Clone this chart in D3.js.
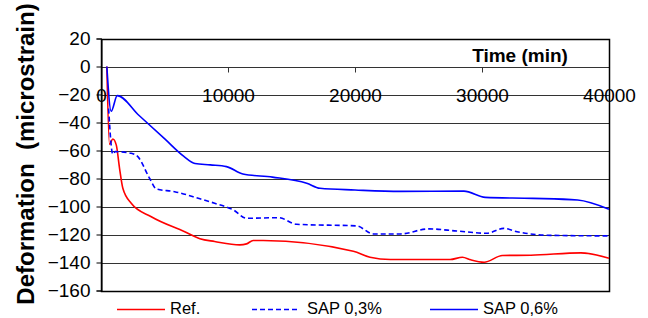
<!DOCTYPE html>
<html>
<head>
<meta charset="utf-8">
<script src="https://cdn.jsdelivr.net/npm/d3@7"></script>
<style>
  body { margin: 0; background: #fff; }
  svg { display: block; font-family: "Liberation Sans", Arial, sans-serif; }
</style>
</head>
<body>
<div id="chart"></div>
<script>
// time (min), deformation (microstrain)
const refData = [[460,0],[670,-55.6],[930,-51.8],[1200,-56],[1460,-72.7],[1720,-87],[2380,-97.7],[3960,-107.3],[6590,-118],[7790,-123],[8950,-125],[10930,-127.4],[11460,-126.7],[11980,-124.3],[12770,-124.3],[19870,-132],[21180,-136.2],[22780,-137.9],[27490,-137.9],[28460,-136.2],[29120,-138.1],[30170,-139.8],[31610,-135],[33850,-134.8],[37790,-133.1],[40000,-137]];
const sap03Data = [[600,-30],[930,-62.7],[1120,-60.8],[2380,-62],[2900,-64.4],[3830,-80],[4360,-87.5],[5800,-89.4],[7790,-94.5],[8950,-97.7],[10430,-102.5],[11460,-108.4],[13990,-108],[15400,-112.7],[20130,-113.9],[21440,-119.6],[23570,-119.6],[25780,-116],[28020,-117.5],[30390,-119.1],[31700,-115.6],[32760,-118],[35390,-120.6],[40000,-121]];
const sap06Data = [[460,0],[800,-32],[1280,-20.8],[3000,-35],[5000,-51.5],[6500,-64],[7400,-69.3],[8600,-70.3],[9880,-71.5],[11170,-76.8],[13500,-79],[16200,-83.4],[17240,-87],[20000,-88.2],[23570,-89.2],[28580,-89],[30260,-93.5],[34000,-94.2],[37530,-95.4],[40000,-102]];

const xTicks = [0, 10000, 20000, 30000, 40000];
const yTicks = [20, 0, -20, -40, -60, -80, -100, -120, -140, -160];

const series = [
  { name: 'Ref.', data: refData, color: '#ff0000', dash: null, lx: 117, tx: 170 },
  { name: 'SAP 0,3%', data: sap03Data, color: '#0000ff', dash: '5,3', lx: 252, tx: 307 },
  { name: 'SAP 0,6%', data: sap06Data, color: '#0000ff', dash: null, lx: 430, tx: 483 }
];

const W = 648, H = 318;
const m = { left: 101, right: 39, top: 38.5, bottom: 27.5 };
const FONT = '"Liberation Sans", Arial, sans-serif';

const svg = d3.select('#chart').append('svg')
  .attr('width', W).attr('height', H);

const x = d3.scaleLinear().domain([0, 40000]).range([m.left, W - m.right]);
const y = d3.scaleLinear().domain([-160, 20]).range([H - m.bottom, m.top]);

// horizontal gridlines
svg.append('g')
  .selectAll('line')
  .data(yTicks)
  .join('line')
  .attr('x1', m.left).attr('x2', W - m.right)
  .attr('y1', d => Math.round(y(d)) + 0.5).attr('y2', d => Math.round(y(d)) + 0.5)
  .attr('stroke', '#333').attr('stroke-width', 1);

// y axis on the left
const yAxis = svg.append('g')
  .attr('transform', `translate(${m.left + 0.5},0)`)
  .call(d3.axisLeft(y).tickValues(yTicks).tickSize(5).tickPadding(6));
yAxis.select('.domain').attr('stroke', '#000');
yAxis.selectAll('.tick line').attr('stroke', '#000');
yAxis.selectAll('.tick text').attr('font-size', 19).attr('fill', '#000')
  .attr('font-family', FONT);

// x axis along y = 0
const xAxis = svg.append('g')
  .attr('transform', `translate(0,${Math.round(y(0)) + 0.5})`)
  .call(d3.axisBottom(x).tickValues(xTicks).tickSize(5).tickPadding(16).tickFormat(d3.format('d')));
xAxis.select('.domain').remove();
xAxis.selectAll('.tick line').attr('stroke', '#333');
xAxis.selectAll('.tick text').attr('font-size', 19).attr('fill', '#000')
  .attr('font-family', FONT);

// frame
svg.append('rect')
  .attr('x', m.left + 0.5).attr('y', Math.round(y(20)) + 0.5)
  .attr('width', x(40000) - m.left).attr('height', Math.round(y(-160)) - Math.round(y(20)))
  .attr('fill', 'none').attr('stroke', '#000').attr('stroke-width', 1.5);

// series lines
const line = d3.line()
  .x(d => x(d[0])).y(d => y(d[1]))
  .curve(d3.curveMonotoneX);

svg.append('g')
  .selectAll('path')
  .data(series)
  .join('path')
  .attr('d', s => line(s.data))
  .attr('fill', 'none')
  .attr('stroke', s => s.color)
  .attr('stroke-width', 1.6)
  .attr('stroke-dasharray', s => s.dash);

// axis titles
svg.append('text')
  .attr('x', 520).attr('y', 62)
  .attr('text-anchor', 'middle')
  .attr('font-size', 19).attr('font-weight', 'bold')
  .text('Time (min)');

svg.append('text')
  .attr('transform', 'translate(34,154) rotate(-90)')
  .attr('text-anchor', 'middle')
  .attr('font-size', 24).attr('font-weight', 'bold')
  .style('white-space', 'pre')
  .text('Deformation  (microstrain)');

// legend
const leg = svg.append('g').selectAll('g').data(series).join('g');
leg.append('line')
  .attr('x1', s => s.lx).attr('x2', s => s.lx + 48)
  .attr('y1', 309.5).attr('y2', 309.5)
  .attr('stroke', s => s.color).attr('stroke-width', 1.6)
  .attr('stroke-dasharray', s => s.dash);
leg.append('text')
  .attr('x', s => s.tx).attr('y', 314)
  .attr('font-size', 16.5)
  .text(s => s.name);
</script>
</body>
</html>
